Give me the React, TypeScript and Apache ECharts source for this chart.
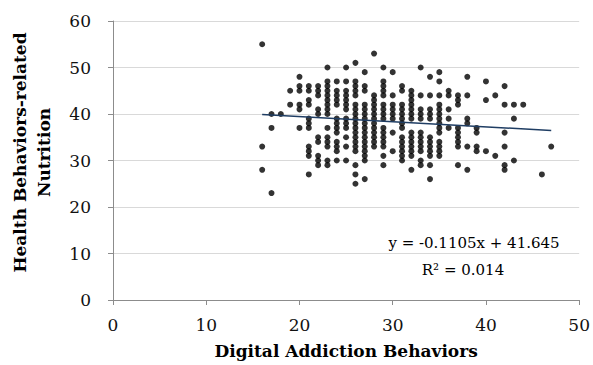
import React, { useEffect, useRef } from "react";
import * as echarts from "echarts";

// Digital Addiction Behaviors score (x) and the Nutrition scores observed at each x
const addictionScores: number[] = [
  16, 17, 18, 19, 20, 21, 22, 23, 24, 25, 26, 27, 28, 29, 30, 31,
  32, 33, 34, 35, 36, 37, 38, 39, 40, 41, 42, 43, 44, 46, 47,
];
const nutritionByScore: number[][] = [
  [55, 33, 28],
  [40, 37, 23],
  [40],
  [45, 42],
  [48, 46, 45, 42, 41, 37],
  [46, 45, 43, 42, 39, 38, 37, 33, 32, 31, 27],
  [46, 45, 44, 41, 40, 35, 34, 31, 30, 29],
  [50, 47, 46, 45, 44, 43, 42, 41, 40, 37, 35, 34, 33, 30, 29],
  [47, 45, 44, 43, 42, 39, 38, 37, 36, 34, 33, 32, 30],
  [50, 47, 45, 44, 43, 42, 41, 39, 38, 37, 35, 33, 30],
  [51, 47, 46, 45, 44, 42, 41, 40, 39, 38, 37, 36, 35, 34, 33, 32, 29, 27, 25],
  [49, 46, 45, 42, 41, 40, 39, 38, 37, 36, 35, 34, 33, 32, 31, 30, 26],
  [53, 44, 43, 42, 41, 40, 39, 38, 37, 36, 35, 34, 33],
  [50, 47, 46, 45, 44, 42, 41, 40, 39, 37, 36, 35, 34, 33, 31, 29],
  [49, 44, 42, 41, 40, 39, 36, 32],
  [46, 45, 42, 41, 40, 39, 38, 37, 35, 34, 33, 32, 31, 30],
  [45, 44, 43, 42, 41, 40, 39, 36, 35, 34, 33, 32, 31, 28],
  [50, 44, 41, 40, 39, 36, 35, 34, 33, 32, 30, 29],
  [48, 44, 41, 40, 39, 35, 34, 33, 32, 31, 29, 26],
  [49, 47, 44, 42, 41, 40, 39, 38, 37, 36, 34, 33, 32, 31],
  [45, 44, 41, 39, 37],
  [44, 43, 42, 37, 36, 35, 34, 33, 29],
  [48, 44, 39, 38, 33, 28],
  [37, 36, 33, 32],
  [47, 43, 32],
  [44, 31],
  [46, 42, 36, 33, 29, 28],
  [42, 39, 30],
  [42],
  [27],
  [33],
];

// Linear trendline (from the chart's equation)
const trendSlope = -0.1105;
const trendIntercept = 41.645;
const trendRange: number[] = [16, 47];
const equationText = "y = -0.1105x + 41.645";
const rSquaredText = "R² = 0.014";

// Axes
const xTitle = "Digital Addiction Behaviors";
const yTitle = "Health Behaviors-related\nNutrition";
const xAxisRange: number[] = [0, 50, 10];
const yAxisRange: number[] = [0, 60, 10];

const FONT = "'DejaVu Serif', 'Liberation Serif', serif";

export default function App() {
  const ref = useRef<HTMLDivElement>(null);

  useEffect(() => {
    document.body.style.margin = "0";
    if (!ref.current) return;
    const chart = echarts.init(ref.current, undefined, { renderer: "svg" });

    const points: number[][] = [];
    addictionScores.forEach((x, i) => {
      nutritionByScore[i].forEach((y) => points.push([x, y]));
    });
    const trend = trendRange.map((x) => [x, trendSlope * x + trendIntercept]);

    const axisColor = "#8c8c8c";
    chart.setOption({
      animation: false,
      backgroundColor: "#ffffff",
      grid: { left: 110, right: 13, top: 21, bottom: 65 },
      xAxis: {
        type: "value",
        min: xAxisRange[0],
        max: xAxisRange[1],
        interval: xAxisRange[2],
        axisLine: { show: true, lineStyle: { color: axisColor, width: 1 } },
        axisTick: { show: true, length: 5, lineStyle: { color: axisColor } },
        splitLine: { show: false },
        axisLabel: { fontFamily: FONT, fontSize: 17, color: "#111", margin: 16 },
        name: xTitle,
        nameLocation: "middle",
        nameGap: 42,
        nameTextStyle: { fontFamily: FONT, fontSize: 17, fontWeight: "bold", color: "#000" },
      },
      yAxis: {
        type: "value",
        min: yAxisRange[0],
        max: yAxisRange[1],
        interval: yAxisRange[2],
        axisLine: { show: true, lineStyle: { color: axisColor, width: 1 } },
        axisTick: { show: true, length: 5, lineStyle: { color: axisColor } },
        splitLine: { show: true, lineStyle: { color: "#d9d9d9", width: 1 } },
        axisLabel: { fontFamily: FONT, fontSize: 17, color: "#111", margin: 22 },
        name: yTitle,
        nameLocation: "middle",
        nameRotate: 90,
        nameGap: 57,
        nameTextStyle: {
          fontFamily: FONT,
          fontSize: 17,
          fontWeight: "bold",
          color: "#000",
          lineHeight: 24,
          align: "center",
          padding: [0, 0, 0, 16],
        },
      },
      series: [
        {
          type: "scatter",
          data: points,
          symbol: "circle",
          symbolSize: 6,
          itemStyle: { color: "#000000" },
          z: 2,
        },
        {
          type: "line",
          data: trend,
          showSymbol: false,
          symbol: "none",
          lineStyle: { color: "#1f3d63", width: 1.5 },
          z: 3,
        },
      ],
      graphic: [
        {
          type: "text",
          x: 474,
          y: 243,
          style: {
            text: equationText,
            font: `15px ${FONT}`,
            fill: "#000",
            textAlign: "center",
            textVerticalAlign: "middle",
          },
        },
        {
          type: "text",
          x: 463,
          y: 270,
          style: {
            text: rSquaredText,
            font: `15px ${FONT}`,
            fill: "#000",
            textAlign: "center",
            textVerticalAlign: "middle",
          },
        },
      ],
    });

    return () => chart.dispose();
  }, []);

  return <div ref={ref} style={{ width: 593, height: 365 }} />;
}
